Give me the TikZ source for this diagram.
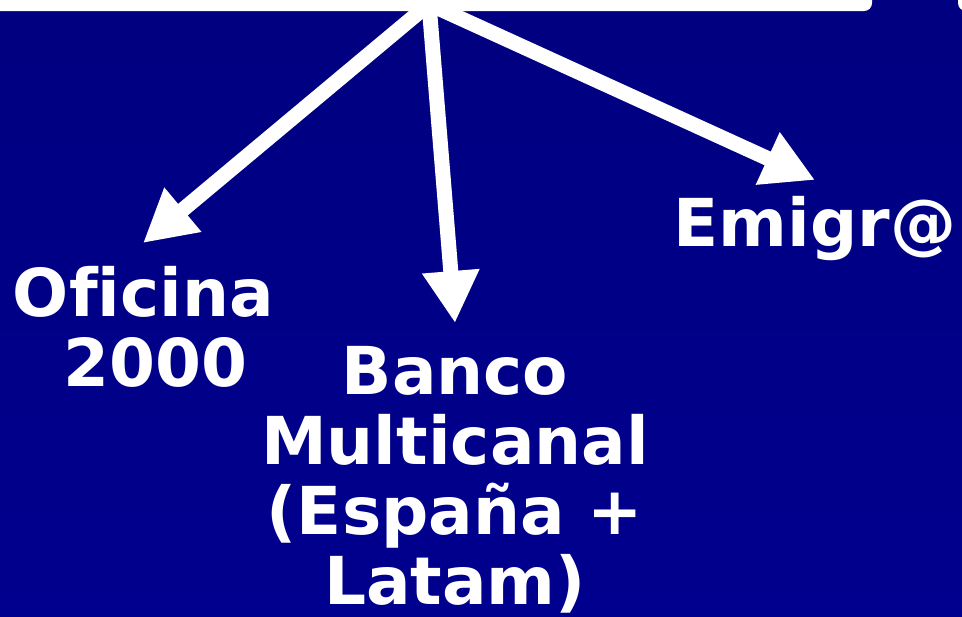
\documentclass[tikz,border=0pt]{standalone}
\usepackage{fontspec}
\setmainfont{DejaVu Sans}[Ligatures=NoCommon]
\usepackage{tikz}
\usetikzlibrary{arrows.meta,positioning}

\definecolor{navytop}{RGB}{0,0,128}
\definecolor{navybot}{RGB}{0,0,142}

\tikzset{
    label/.style={text=white,font=\bfseries\fontsize{37.6}{39.8}\selectfont,align=center,anchor=base,inner sep=0pt},
    branch/.style={white,line width=0.3cm,arrows={-Triangle[length=1.04cm,width=1.08cm]}}
}

\begin{document}
\begin{tikzpicture}[x=0.02cm,y=-0.02cm]
        \useasboundingbox (0,0) rectangle (962,616);
        \clip (0,0) rectangle (962,616);
        \shade[top color=navytop,bottom color=navybot] (0,0) rectangle (962,616);
        % top boxes
        \fill[white,rounded corners=0.16cm] (-20,-20) rectangle (872,11);
        \fill[white,rounded corners=0.16cm] (958,-20) rectangle (1000,11);
        % branches (base = last line)
        \coordinate (hub) at (429,4);
        \coordinate (tipoficina) at (143,243);
        \coordinate (tipbanco) at (455,323);
        \coordinate (tipemigra) at (815,180);
        \node[label] (oficina) at (155,386) {Oficina\hspace*{0.35em}\\2000};
        \node[label] (banco) at (455,604) {Banco\\Multicanal\\(España +\\Latam)};
        \node[label] (emigra) at (815,246) {Emigr@};
        \draw[branch] (hub) -- (tipoficina);
        \draw[branch] (hub) -- (tipbanco);
        \draw[branch] (hub) -- (tipemigra);
\end{tikzpicture}
\end{document}
